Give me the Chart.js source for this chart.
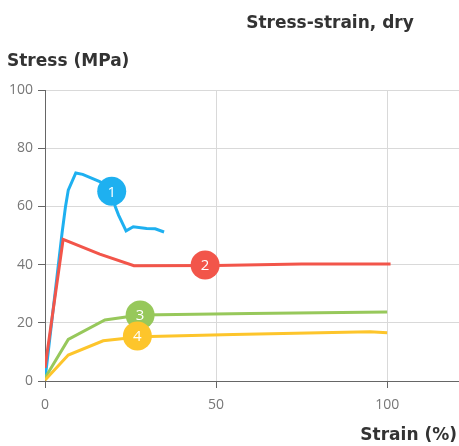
<!DOCTYPE html>
<html>
<head>
<meta charset="utf-8">
<script src="https://cdn.jsdelivr.net/npm/chart.js@4"></script>
<style>
  html, body { margin: 0; padding: 0; background: #fff; overflow: hidden; }
  canvas { display: block; }
</style>
</head>
<body>
<canvas id="chart" width="459" height="446"></canvas>
<script>
// Series data (strain %, stress MPa)
const strain1 = [0, 5, 6, 6.8, 9, 11, 16, 19.5, 20.5, 21.5, 23.7, 25.8, 29.7, 32.2, 34.8];
const stress1 = [0.5, 51, 60, 65.6, 71.5, 71, 68.5, 66, 60, 57, 51.6, 53, 52.4, 52.3, 51.2];
const strain2 = [0, 5.3, 16, 26, 50, 75, 101];
const stress2 = [4.5, 48.7, 43.6, 39.6, 39.7, 40.2, 40.2];
const strain3 = [0, 6.8, 17.5, 27.8, 60, 100];
const stress3 = [1, 14.3, 21, 22.7, 23.2, 23.7];
const strain4 = [0, 6.8, 17, 27.8, 55, 95, 100];
const stress4 = [0.3, 8.9, 13.8, 15.2, 16, 16.9, 16.6];

const seriesColors = ['#1eb0f0', '#f2554a', '#97c85b', '#fdc52b'];
const badgeLabels = ['1', '2', '3', '4'];
const badgeX = [19.5, 46.8, 27.8, 27];
const badgeY = [65.2, 39.9, 22.7, 15.5];

const xTicks = [0, 50, 100];
const yTicks = [0, 20, 40, 60, 80, 100];

const toPts = (xs, ys) => xs.map((x, i) => ({ x: x, y: ys[i] }));

const lineSet = (xs, ys, color, order) => ({
  data: toPts(xs, ys),
  borderColor: color,
  borderWidth: 3,
  pointRadius: 0,
  tension: 0,
  showLine: true,
  fill: false,
  order: order
});

// Titles and badge numbers
const textPlugin = {
  id: 'texts',
  afterDatasetsDraw(chart) {
    const c = chart.ctx;
    c.save();
    c.fillStyle = '#fff';
    c.font = '15px "Open Sans"';
    c.textAlign = 'center';
    c.textBaseline = 'middle';
    const meta = chart.getDatasetMeta(4);
    meta.data.forEach((pt, i) => c.fillText(badgeLabels[i], pt.x, pt.y + 1));
    c.restore();
  },
  afterDraw(chart) {
    const c = chart.ctx;
    c.save();
    c.fillStyle = '#333';
    c.font = 'bold 17px "DejaVu Sans"';
    c.textBaseline = 'alphabetic';
    c.textAlign = 'center';
    c.fillText('Stress-strain, dry', 330, 28);
    c.textAlign = 'left';
    c.fillText('Stress (MPa)', 7, 66);
    c.textAlign = 'right';
    c.fillText('Strain (%)', 457, 440);
    c.restore();
  }
};

new Chart(document.getElementById('chart'), {
  type: 'scatter',
  data: {
    datasets: [
      lineSet(strain1, stress1, seriesColors[0], 3),
      lineSet(strain2, stress2, seriesColors[1], 2),
      lineSet(strain3, stress3, seriesColors[2], 1),
      lineSet(strain4, stress4, seriesColors[3], 0),
      {
        data: toPts(badgeX, badgeY),
        pointRadius: 14.5,
        pointBackgroundColor: seriesColors,
        pointBorderWidth: 0,
        showLine: false,
        order: -1
      }
    ]
  },
  options: {
    responsive: false,
    animation: false,
    layout: { autoPadding: false, padding: { top: 90, right: 0, left: 0, bottom: 0 } },
    plugins: { legend: { display: false }, tooltip: { enabled: false } },
    scales: {
      x: {
        type: 'linear',
        min: 0,
        max: 121,
        afterBuildTicks: s => { s.ticks = xTicks.map(v => ({ value: v })); },
        afterFit: s => { s.height = 65; s.paddingLeft = 0; s.paddingRight = 0; },
        border: { color: '#666', width: 1 },
        grid: { color: '#d9d9d9', tickColor: '#666', tickLength: 7 },
        ticks: { color: '#777', padding: 9, maxRotation: 0, font: { family: 'Open Sans', size: 14 } }
      },
      y: {
        min: 0,
        max: 100,
        afterBuildTicks: s => { s.ticks = yTicks.map(v => ({ value: v })); },
        afterFit: s => { s.width = 45; s.paddingTop = 0; s.paddingBottom = 0; },
        border: { color: '#666', width: 1 },
        grid: { color: '#d9d9d9', tickColor: '#666', tickLength: 7 },
        ticks: { color: '#777', padding: 5, font: { family: 'Open Sans', size: 14 } }
      }
    }
  },
  plugins: [textPlugin]
});
</script>
</body>
</html>
